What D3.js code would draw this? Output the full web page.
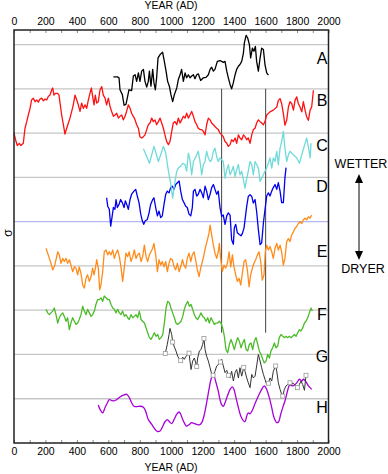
<!DOCTYPE html>
<html>
<head>
<meta charset="utf-8">
<script src="https://cdn.jsdelivr.net/npm/d3@7"></script>
<style>
body{margin:0;background:#fff}
svg{display:block;font-family:"Liberation Sans",Arial,sans-serif}
</style>
</head>
<body>
<script>
const width = 388
const height = 474

// one record per row, values are anomalies in sigma units around the row baseline
const labels = ['A','B','C','D','E','F','G','H']
const colors = ['#000000','#ff1010','#70dada','#0000ee','#ff8c1a','#4cbb2a','#333333','#a800d8']
const baselines = [8,7,6,5,4,3,2,1]
const gridValues = [1,2,3,4,5,6,7,8,9]
const yearLabels = [0,200,400,600,800,1000,1200,1400,1600,1800,2000]
const yearTicks = [0,100,200,300,400,500,600,700,800,900,1000,1100,1200,1300,1400,1500,1600,1700,1800,1900,2000]
const dividers = [1320,1600]

const seriesA = [[632,.27],[657,.27],[668,.25],[674,-.02],[689,-.13],[700,-.37],[712,-.35],[721,-.2],[731,-.02],[748,-.04],[759,.29],[770,.32],[780,.17],[791,.36],[801,.17],[812,.4],[823,.44],[833,.17],[844,.04],[854,.17],[861,.4],[871,.06],[882,.44],[890,.14],[899,-.02],[907,.25],[916,.7],[928,.77],[945,.83],[956,.62],[967,.4],[977,.17],[988,.06],[998,-.13],[1009,-.29],[1020,-.13],[1035,.02],[1045,.21],[1056,.32],[1066,.44],[1077,.17],[1088,.36],[1098,.25],[1109,.32],[1119,.25],[1130,.29],[1141,.32],[1151,.23],[1162,.32],[1172,.34],[1187,.19],[1204,.25],[1221,.26],[1236,.32],[1247,.44],[1257,.49],[1268,.4],[1278,.44],[1293,.62],[1310,.64],[1331,.6],[1342,.62],[1353,.4],[1363,.25],[1374,.1],[1384,0],[1395,.14],[1406,.32],[1416,.44],[1427,.51],[1437,.55],[1448,.62],[1459,.81],[1465,1.04],[1476,1.21],[1486,1.15],[1497,1],[1505,.7],[1516,.92],[1526,.85],[1535,.96],[1543,.62],[1554,.4],[1565,.7],[1575,.92],[1586,.89],[1596,.55],[1607,.36],[1618,.31]]

const seriesB = [[0,0],[13,-.19],[21,-.28],[34,-.23],[44,-.28],[59,-.23],[70,.11],[81,.26],[91,.41],[102,.56],[112,.75],[123,.79],[134,.71],[144,.75],[155,.7],[165,.77],[176,.79],[187,.73],[197,.77],[208,.75],[218,.83],[229,.86],[240,.98],[246,1.02],[254,.86],[265,.9],[276,.9],[286,.86],[293,.68],[303,.41],[314,.19],[324,-.02],[335,.11],[346,.23],[356,.34],[367,.49],[377,.64],[388,.86],[399,.75],[409,.64],[420,.49],[430,.68],[441,.56],[452,.64],[462,.56],[473,.75],[483,.9],[492,1.02],[500,.83],[509,.64],[517,.86],[526,.68],[536,.71],[547,.98],[558,1.05],[568,.86],[579,.79],[589,.64],[600,.79],[611,.6],[621,.49],[632,.38],[642,.41],[653,.45],[664,.34],[674,.38],[685,.41],[695,.3],[706,.38],[716,.49],[727,.64],[738,.56],[748,.45],[759,.38],[770,.3],[780,.19],[791,.11],[801,-.08],[812,-.11],[823,-.08],[833,-.04],[844,.08],[854,.19],[865,.23],[876,.34],[886,.26],[897,.3],[907,.19],[918,.26],[929,.34],[939,.23],[950,.11],[960,-.04],[971,-.19],[982,-.26],[992,-.19],[1003,.04],[1013,.23],[1024,.26],[1035,.19],[1045,.34],[1056,.23],[1066,.3],[1077,.38],[1088,.34],[1098,.45],[1109,.34],[1119,.41],[1130,.49],[1141,.38],[1151,.26],[1162,.19],[1172,.11],[1183,.08],[1194,.08],[1204,.04],[1215,-.04],[1225,.19],[1236,.34],[1247,.3],[1257,.23],[1268,.19],[1278,.15],[1289,.11],[1299,.08],[1310,0],[1321,-.04],[1331,-.08],[1342,-.19],[1353,-.23],[1363,-.3],[1374,-.26],[1384,-.15],[1395,-.19],[1406,-.11],[1416,-.23],[1427,-.04],[1437,-.11],[1448,-.15],[1459,-.04],[1469,-.08],[1480,-.15],[1490,-.11],[1501,-.23],[1512,-.04],[1522,.08],[1533,.11],[1543,.23],[1554,.3],[1565,.26],[1575,.23],[1586,.19],[1596,.26],[1607,.41],[1628,.48],[1649,.52],[1671,.59],[1681,.74],[1692,.78],[1702,.67],[1713,.44],[1723,.18],[1734,.29],[1745,.59],[1755,.71],[1766,.67],[1777,.52],[1787,.74],[1798,.82],[1808,.67],[1819,.59],[1830,.48],[1840,.71],[1851,.52],[1861,.37],[1872,.29],[1883,.52],[1893,.59],[1904,.97]]

const seriesC = [[823,.65],[844,.47],[861,.32],[876,.51],[890,.7],[903,.55],[918,.36],[933,.51],[950,.7],[965,.55],[982,.14],[996,-.13],[1009,-.47],[1024,-.09],[1035,.14],[1045,.21],[1060,.25],[1073,.32],[1088,.29],[1098,.14],[1109,.55],[1119,.4],[1130,.06],[1141,.36],[1157,.47],[1172,.59],[1183,.36],[1194,.06],[1204,.29],[1215,.36],[1225,.59],[1236,.44],[1247,.36],[1257,.4],[1268,.59],[1278,.66],[1289,.47],[1299,.36],[1310,.44],[1321,.4],[1331,.36],[1342,-.02],[1353,.17],[1363,.29],[1374,.06],[1384,.14],[1395,.25],[1406,.02],[1416,.17],[1427,.29],[1437,.06],[1448,.14],[1459,-.05],[1469,-.24],[1480,-.02],[1490,.14],[1501,.36],[1512,.29],[1522,.06],[1533,.36],[1543,.29],[1554,.21],[1565,-.09],[1575,-.02],[1586,.06],[1596,.14],[1607,.21],[1628,.44],[1639,.21],[1649,.44],[1660,.36],[1671,.59],[1681,.29],[1692,.66],[1702,.81],[1713,1.04],[1723,.66],[1734,.36],[1745,.51],[1755,.59],[1777,.51],[1798,.44],[1815,.32],[1830,.51],[1851,.77],[1861,.89],[1872,.7],[1883,.44],[1889,.77]]

const seriesD = [[589,.54],[596,.35],[606,.28],[615,-.1],[623,.09],[632,.32],[642,.28],[649,.5],[657,.32],[668,.39],[678,.5],[689,.43],[700,.32],[708,.47],[717,.39],[727,.28],[738,.5],[748,.62],[763,.69],[774,.73],[784,.58],[795,.43],[806,.17],[816,.02],[825,-.06],[835,.02],[848,.05],[859,.2],[869,.39],[882,.5],[890,.54],[901,.32],[912,.13],[922,.24],[933,.09],[943,.13],[954,.39],[965,.62],[975,.69],[986,.65],[996,.77],[1007,.8],[1018,.73],[1028,.84],[1039,.88],[1050,.92],[1060,.69],[1071,.5],[1081,.43],[1092,.35],[1102,.32],[1113,.17],[1124,.13],[1134,.32],[1141,.69],[1151,.73],[1162,.58],[1172,.62],[1183,.73],[1194,.65],[1204,.54],[1215,.8],[1225,.69],[1236,.5],[1247,.62],[1257,.77],[1268,.84],[1278,.73],[1289,.62],[1299,.69],[1310,.32],[1321,.12],[1331,.15],[1342,-.06],[1353,.13],[1363,.2],[1374,.15],[1384,-.41],[1395,-.51],[1401,-.14],[1410,-.06],[1420,-.25],[1433,-.29],[1444,-.32],[1452,-.27],[1463,-.14],[1471,.09],[1480,.35],[1490,.57],[1501,.61],[1512,.57],[1522,.42],[1533,.5],[1543,.23],[1554,-.18],[1565,-.52],[1575,-.48],[1586,-.03],[1596,.27],[1607,.58],[1618,.65],[1628,.58],[1639,.69],[1649,.77],[1660,.84],[1671,.73],[1681,.88],[1692,.69],[1702,.43],[1713,.43],[1723,.99],[1730,1.22]]

const seriesE = [[204,.4],[214,.29],[225,.17],[235,.06],[246,-.09],[256,-.02],[267,.14],[278,.32],[288,.25],[299,.06],[310,.17],[320,.1],[331,.17],[341,.06],[352,.14],[362,.02],[373,-.13],[384,-.02],[394,-.05],[405,-.2],[415,-.02],[426,-.17],[437,-.43],[447,-.5],[458,-.28],[468,-.2],[479,-.35],[490,-.24],[500,-.05],[509,-.2],[519,-.02],[526,.14],[536,-.05],[545,-.54],[553,-.43],[564,-.13],[574,.32],[585,.36],[596,.25],[606,.32],[617,.25],[628,.36],[638,.17],[649,.29],[659,.36],[670,.21],[680,-.02],[691,-.35],[702,-.02],[712,.29],[723,.21],[733,.32],[744,.1],[755,.21],[765,.36],[776,.17],[786,.25],[797,.29],[808,.1],[818,.21],[829,.47],[840,.21],[850,.1],[861,.25],[871,.32],[882,.4],[890,.51],[901,.25],[912,-.13],[922,.14],[933,.02],[943,.1],[954,-.02],[965,.1],[975,-.13],[986,.06],[996,.17],[1007,.14],[1018,-.02],[1028,-.09],[1039,.06],[1050,-.13],[1060,-.02],[1071,.14],[1081,.02],[1092,-.05],[1102,.17],[1113,.29],[1124,.1],[1134,.25],[1145,.32],[1155,.14],[1166,-.09],[1177,-.24],[1187,-.05],[1198,.1],[1208,.25],[1219,.44],[1230,.59],[1240,.74],[1247,.92],[1257,.7],[1268,.47],[1278,.29],[1289,.17],[1299,.32],[1306,.51],[1314,.17],[1325,-.13],[1336,.02],[1346,-.05],[1357,.06],[1368,.32],[1378,-.02],[1389,.25],[1399,-.02],[1410,-.2],[1420,-.35],[1431,-.28],[1442,-.43],[1452,-.17],[1463,.1],[1473,.14],[1484,-.09],[1495,-.47],[1505,-.2],[1516,-.05],[1526,.06],[1537,.14],[1548,.25],[1558,.32],[1569,.1],[1579,-.32],[1590,-.2],[1598,.32],[1607,.47],[1618,.36],[1628,.44],[1639,.32],[1649,.17],[1660,.4],[1671,.51],[1681,.36],[1692,.47],[1702,.32],[1713,.02],[1723,.17],[1734,.55],[1745,.62],[1755,.55],[1766,.7],[1777,.77],[1787,.85],[1798,.89],[1808,.96],[1819,1],[1830,.96],[1840,1.04],[1851,1.08],[1861,1.04],[1872,1.11],[1883,1.08],[1893,1.15]]

const seriesF = [[204,.02],[214,-.06],[225,-.1],[235,-.06],[246,-.02],[256,.05],[267,-.1],[278,-.29],[288,-.17],[299,-.1],[310,-.06],[320,-.14],[331,-.25],[341,-.17],[352,-.44],[362,-.29],[373,-.17],[384,-.25],[394,-.32],[405,-.29],[415,-.21],[426,-.1],[437,.09],[447,-.02],[458,-.1],[468,.02],[479,-.06],[490,-.14],[500,-.1],[511,-.02],[521,.13],[532,.24],[543,.24],[553,.28],[564,.2],[574,.32],[585,.28],[596,.24],[606,.24],[617,.13],[628,.05],[638,.02],[649,-.06],[659,.02],[670,-.06],[680,-.1],[691,-.02],[702,-.14],[712,-.1],[723,-.17],[733,-.21],[744,-.1],[755,-.17],[765,-.14],[776,-.1],[786,-.17],[797,-.02],[808,-.21],[818,-.25],[829,-.29],[840,-.4],[850,-.51],[861,-.62],[871,-.66],[882,-.59],[892,-.51],[903,-.59],[914,-.55],[924,-.66],[935,-.62],[946,-.55],[956,-.29],[967,.05],[977,.2],[988,.17],[998,.05],[1009,-.06],[1020,-.17],[1030,-.29],[1041,-.32],[1052,-.29],[1062,-.25],[1073,-.14],[1083,.02],[1094,.13],[1105,.2],[1115,.09],[1126,.13],[1136,.02],[1147,-.1],[1157,-.17],[1168,-.21],[1179,-.14],[1189,-.06],[1200,-.14],[1210,-.17],[1221,-.25],[1232,-.17],[1242,-.29],[1253,-.17],[1264,-.25],[1274,-.32],[1285,-.29],[1295,-.29],[1306,-.25],[1316,-.29],[1327,-.4],[1338,-.59],[1348,-.89],[1359,-.96],[1370,-.77],[1380,-.66],[1391,-.77],[1401,-.89],[1412,-.74],[1422,-.62],[1433,-.7],[1444,-.85],[1454,-.74],[1465,-.66],[1476,-.89],[1486,-.92],[1497,-.77],[1507,-.74],[1518,-.89],[1528,-.7],[1539,-.62],[1550,-.77],[1560,-.92],[1571,-1],[1582,-1.11],[1592,-1.19],[1603,-1.15],[1613,-1],[1624,-1.08],[1634,-.92],[1645,-.85],[1656,-.74],[1666,-.85],[1677,-.81],[1687,-.62],[1698,-.55],[1709,-.59],[1719,-.62],[1730,-.59],[1740,-.62],[1751,-.59],[1762,-.62],[1772,-.59],[1783,-.55],[1794,-.59],[1804,-.51],[1815,-.44],[1825,-.47],[1836,-.4],[1847,-.29],[1857,-.25],[1868,-.17],[1878,-.06],[1889,.05],[1897,-.02]]

const seriesG = [[962,.02],[975,.23],[986,.45],[992,.59],[1003,.45],[1009,.28],[1022,.15],[1030,.08],[1041,-.04],[1052,-.11],[1060,-.14],[1073,-.06],[1083,-.11],[1094,-.04],[1105,0],[1113,.03],[1119,-.15],[1126,-.34],[1136,-.15],[1147,-.08],[1162,-.27],[1168,-.08],[1179,.08],[1189,.11],[1200,.23],[1208,.36],[1215,.11],[1225,-.04],[1236,-.15],[1247,-.3],[1257,-.44],[1266,-.47],[1278,-.38],[1289,-.26],[1299,-.23],[1312,-.17],[1321,-.11],[1331,-.26],[1342,-.41],[1353,-.36],[1363,-.47],[1374,-.53],[1384,-.38],[1395,-.6],[1406,-.41],[1416,-.34],[1427,-.53],[1437,-.3],[1448,-.49],[1461,-.29],[1469,-.38],[1480,-.53],[1490,-.64],[1501,-.75],[1512,-.45],[1522,-.53],[1533,-.49],[1543,-.26],[1554,0],[1565,-.15],[1575,-.3],[1586,-.45],[1596,-.56],[1607,-.68],[1618,-.65],[1628,-.53],[1639,-.6],[1649,-.38],[1664,-.26],[1671,-.38],[1681,-.64],[1692,-.79],[1702,-.9],[1709,-.94],[1719,-.79],[1730,-.71],[1740,-.68],[1755,-.64],[1762,-.71],[1772,-.64],[1783,-.68],[1794,-.71],[1802,-.75],[1815,-.68],[1825,-.6],[1836,-.68],[1847,-.81],[1857,-.47]]
const markersG = [[962,.02],[1009,.28],[1060,-.14],[1113,.03],[1162,-.27],[1208,.36],[1266,-.47],[1312,-.17],[1363,-.47],[1461,-.29],[1618,-.65],[1664,-.26],[1709,-.94],[1755,-.64],[1802,-.75],[1857,-.47]]

const seriesH = [[536,-.14],[547,-.24],[564,-.32],[579,-.2],[594,-.09],[606,-.02],[621,-.04],[636,-.05],[653,-.02],[674,.04],[695,.08],[717,.1],[734,.02],[748,-.09],[763,-.17],[780,-.18],[801,-.17],[823,-.19],[837,-.28],[854,-.47],[876,-.58],[897,-.69],[912,-.74],[929,-.73],[946,-.62],[960,-.52],[975,-.47],[988,-.52],[1003,-.56],[1018,-.47],[1035,-.35],[1050,-.3],[1060,-.35],[1073,-.47],[1088,-.58],[1098,-.62],[1115,-.58],[1130,-.54],[1145,-.56],[1162,-.58],[1179,-.59],[1194,-.54],[1208,-.39],[1225,-.09],[1240,.21],[1253,.44],[1264,.53],[1274,.49],[1285,.36],[1299,.17],[1310,-.02],[1321,-.14],[1331,-.17],[1342,-.09],[1357,.06],[1374,.21],[1389,.27],[1399,.21],[1412,.02],[1427,-.2],[1442,-.39],[1459,-.5],[1469,-.52],[1480,-.39],[1490,-.32],[1501,-.34],[1516,-.26],[1533,-.11],[1554,.06],[1575,.21],[1592,.29],[1607,.21],[1624,.02],[1639,-.2],[1654,-.43],[1671,-.54],[1683,-.52],[1696,-.35],[1709,-.2],[1723,-.05],[1734,.1],[1745,.25],[1755,.32],[1772,.29],[1787,.32],[1802,.38],[1815,.44],[1830,.4],[1840,.44],[1851,.41],[1861,.36],[1872,.29],[1883,.25],[1893,.21]]

const allSeries = [seriesA,seriesB,seriesC,seriesD,seriesE,seriesF,seriesG,seriesH]
// label offset in px from its row's gridline
const labelDy = [-25,-27,-26,-30,-9,10,8,14]

const svg = d3.select('body').append('svg')
  .attr('width',width)
  .attr('height',height)

const x = d3.scaleLinear().domain([0,2000]).range([14,328.5])
const y = d3.scaleLinear().domain([0,9.33]).range([443,30])

// gridlines
svg.append('g')
  .selectAll('line')
  .data(gridValues)
  .enter().append('line')
    .attr('x1',x(0)).attr('x2',x(2000))
    .attr('y1',d => y(d)).attr('y2',d => y(d))
    .attr('stroke',d => d === 5 ? '#b6b6f0' : '#c6c6c6')
    .attr('stroke-width',1.3)

// vertical markers across rows B..F
svg.append('g')
  .selectAll('line')
  .data(dividers)
  .enter().append('line')
    .attr('x1',d => x(d)).attr('x2',d => x(d))
    .attr('y1',y(8)).attr('y2',y(2.49))
    .attr('stroke','#555')
    .attr('stroke-width',1.1)

const order = [7,6,5,4,3,2,1,0]
order.forEach(i => {
  const line = d3.line()
    .x(d => x(d[0]))
    .y(d => y(baselines[i] + d[1]))
    .curve(i === 7 ? d3.curveCatmullRom : d3.curveLinear)
  svg.append('path')
    .datum(allSeries[i])
    .attr('d',line)
    .attr('fill','none')
    .attr('stroke',colors[i])
    .attr('stroke-width',i === 6 ? 1 : 1.3)
    .attr('stroke-linejoin','round')
})

svg.append('g')
  .selectAll('rect')
  .data(markersG)
  .enter().append('rect')
    .attr('x',d => x(d[0]) - 2)
    .attr('y',d => y(baselines[6] + d[1]) - 2)
    .attr('width',4).attr('height',4)
    .attr('fill','#fff')
    .attr('stroke','#999')
    .attr('stroke-width',0.8)

// row letters
svg.append('g')
  .selectAll('text')
  .data(labels)
  .enter().append('text')
    .attr('x',322)
    .attr('y',(d,i) => y(baselines[i]) + labelDy[i])
    .attr('text-anchor','middle')
    .attr('font-size',16)
    .text(d => d)

// axes
const tickAxisTop = d3.axisTop(x).tickValues(yearTicks).tickSizeInner(-3).tickSizeOuter(0).tickFormat('')
const tickAxisBottom = d3.axisBottom(x).tickValues(yearTicks).tickSizeInner(-3).tickSizeOuter(0).tickFormat('')
const labelAxisTop = d3.axisTop(x).tickValues(yearLabels).tickSize(0).tickPadding(5).tickFormat(d3.format('d'))
const labelAxisBottom = d3.axisBottom(x).tickValues(yearLabels).tickSize(0).tickPadding(5).tickFormat(d3.format('d'))

;[[tickAxisTop,30],[tickAxisBottom,443],[labelAxisTop,30],[labelAxisBottom,443]].forEach(([ax,ty]) => {
  const g = svg.append('g').attr('transform',`translate(0,${ty})`).call(ax)
  g.select('.domain').remove()
  g.selectAll('line').attr('stroke','#888')
  g.selectAll('text').attr('font-size',10.5).attr('font-family','"Liberation Sans",Arial,sans-serif').attr('fill','#000')
})

svg.append('rect')
  .attr('x',x(0)).attr('y',y(9.33))
  .attr('width',x(2000) - x(0)).attr('height',y(0) - y(9.33))
  .attr('fill','none')
  .attr('stroke','#222')
  .attr('stroke-width',1.5)

svg.append('text').attr('x',171).attr('y',8.5).attr('text-anchor','middle').attr('font-size',10.5).text('YEAR (AD)')
svg.append('text').attr('x',171).attr('y',471).attr('text-anchor','middle').attr('font-size',10.5).text('YEAR (AD)')

svg.append('text')
  .attr('transform','translate(12,233) rotate(-90)')
  .attr('text-anchor','middle')
  .attr('font-size',12)
  .text('σ')

// wetter / dryer arrow
svg.append('text').attr('x',361).attr('y',167.5).attr('text-anchor','middle').attr('font-size',12.5).text('WETTER')
svg.append('text').attr('x',363).attr('y',273).attr('text-anchor','middle').attr('font-size',12.5).text('DRYER')
svg.append('line').attr('x1',359).attr('x2',359).attr('y1',182).attr('y2',252).attr('stroke','#000').attr('stroke-width',1)
svg.append('path').attr('d','M359,174L355,183L363,183Z').attr('fill','#000')
svg.append('path').attr('d','M359,260L355,251L363,251Z').attr('fill','#000')
</script>
</body>
</html>
